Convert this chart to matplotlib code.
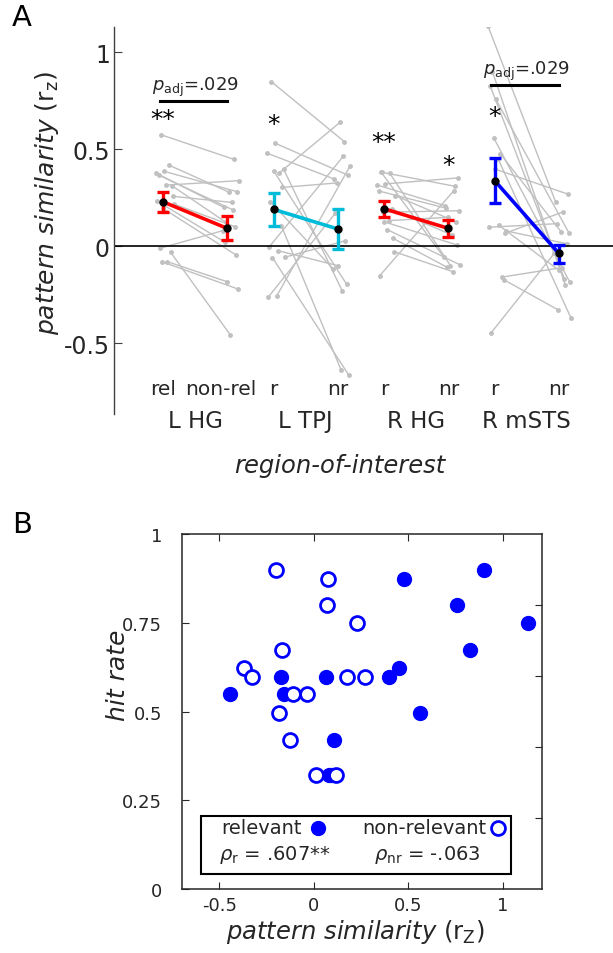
"""
Pattern similarity per ROI (panel A) and hit rate vs R mSTS similarity (panel B).
Output: out.png
"""
import matplotlib
matplotlib.use("Agg")
import matplotlib.pyplot as plt
from matplotlib.patches import Rectangle

# ---- panel A data -------------------------------------------------------
ROI_NAMES = ["L HG", "L TPJ", "R HG", "R mSTS"]
COND_LABELS = [("rel", "non-rel"), ("r", "nr"), ("r", "nr"), ("r", "nr")]
ROI_COLORS = ["#ff0000", "#00bcd9", "#ff0000", "#0000ff"]

REL_MEAN = [0.228, 0.189, 0.192, 0.337]
REL_LO = [0.177, 0.105, 0.151, 0.223]
REL_HI = [0.278, 0.273, 0.232, 0.455]
NR_MEAN = [0.091, 0.088, 0.091, -0.038]
NR_LO = [0.031, -0.017, 0.048, -0.089]
NR_HI = [0.153, 0.191, 0.134, 0.007]

LHG_REL = [0.574, 0.418, 0.385, 0.375, 0.366, 0.314, 0.311, 0.256, 0.194,
           -0.012, -0.033, -0.081, -0.081, 0.216, 0.230]
LHG_NR = [0.447, 0.277, 0.280, 0.199, 0.187, 0.337, 0.122, 0.225, -0.046,
          0.079, -0.459, -0.222, -0.184, 0.100, 0.020]
LTPJ_REL = [0.847, 0.376, 0.531, 0.479, -0.005, -0.256, 0.302, 0.397, 0.388,
            0.229, 0.105, -0.060, -0.024, -0.058, -0.265]
LTPJ_NR = [0.538, 0.637, 0.366, 0.345, 0.462, 0.410, 0.325, -0.230, -0.196,
           -0.119, -0.638, -0.665, -0.101, 0.027, 0.170]
RHG_REL = [0.380, 0.376, 0.320, 0.314, -0.153, 0.084, 0.040, -0.029, 0.125,
           0.383, 0.191, 0.174, 0.131, 0.260, 0.284]
RHG_NR = [0.308, -0.101, 0.351, 0.208, 0.285, -0.098, -0.110, -0.132, 0.005,
          -0.058, 0.057, 0.182, 0.148, 0.125, 0.195]

# ---- panel B data (R mSTS, one entry per subject) -----------------------
HIT_RATE = [0.899, 0.874, 0.799, 0.748, 0.672, 0.623, 0.597, 0.597, 0.597,
            0.548, 0.548, 0.497, 0.421, 0.321, 0.321]
MSTS_REL = [0.898, 0.476, 0.757, 1.133, 0.824, 0.450, -0.173, 0.065, 0.397,
            -0.446, -0.160, 0.559, 0.106, 0.078, 0.097]
MSTS_NR = [-0.203, 0.074, 0.069, 0.229, -0.168, -0.371, -0.328, 0.176, 0.268,
           -0.037, -0.111, -0.187, -0.125, 0.012, 0.115]

SUBJ_REL = [LHG_REL, LTPJ_REL, RHG_REL, MSTS_REL]
SUBJ_NR = [LHG_NR, LTPJ_NR, RHG_NR, MSTS_NR]

# star annotations: (roi, condition 0/1, y, text)
STARS = [(0, 0, 0.655, "**"), (1, 0, 0.63, "*"), (2, 0, 0.536, "**"),
         (2, 1, 0.42, "*"), (3, 0, 0.67, "*")]
# bracket annotations: (roi, y, text)
BRACKETS = [(0, 0.747, r"$p_{\mathrm{adj}}$=.029"), (3, 0.83, r"$p_{\mathrm{adj}}$=.029")]

# fixed horizontal jitter for subject dots (style only)
JIT_L = [-0.02, 0.05, 0.01, -0.06, -0.04, 0.03, 0.08, 0.09, 0.00, -0.03, 0.07, -0.01, 0.04, 0.10, -0.05]
JIT_R = [0.06, 0.02, 0.09, -0.03, 0.05, 0.11, -0.01, 0.04, 0.08, -0.04, 0.03, 0.10, 0.00, 0.07, -0.02]

OFF = 0.29
AX_COL = "#262626"

fig = plt.figure(figsize=(6.13, 9.54), dpi=100)

# ---------------- panel A ----------------
axA = fig.add_axes([114 / 613, 1 - 415 / 954, 499 / 613, 387 / 954])
axA.set_xlim(0.267, 4.78)
axA.set_ylim(-0.866, 1.129)
for s in ("top", "right", "bottom"):
    axA.spines[s].set_visible(False)
axA.spines["left"].set_color("#404040")
axA.spines["left"].set_linewidth(1.0)
axA.set_xticks([])
axA.set_yticks([-0.5, 0, 0.5, 1])
axA.set_yticklabels(["-0.5", "0", "0.5", "1"])
axA.tick_params(axis="y", direction="in", length=6, labelsize=17, pad=3,
                color="#404040", labelcolor=AX_COL)
axA.axhline(0, color="k", lw=1.2, zorder=2)

for i in range(4):
    c = i + 1
    rel, nr = SUBJ_REL[i], SUBJ_NR[i]
    for k in range(len(rel)):
        axA.plot([c - OFF + JIT_L[k], c + OFF + JIT_R[k]], [rel[k], nr[k]],
                 color="#c0c0c0", lw=1.0, marker="o", ms=2.5, zorder=1)
    col = ROI_COLORS[i]
    axA.plot([c - OFF, c + OFF], [REL_MEAN[i], NR_MEAN[i]], color=col, lw=2.6, zorder=4)
    for x, m, lo, hi in ((c - OFF, REL_MEAN[i], REL_LO[i], REL_HI[i]),
                         (c + OFF, NR_MEAN[i], NR_LO[i], NR_HI[i])):
        axA.errorbar([x], [m], yerr=[[m - lo], [hi - m]], fmt="none", ecolor=col,
                     elinewidth=2.4, capsize=4, capthick=2.4, zorder=5)
        axA.plot([x], [m], "o", color="k", ms=5, zorder=6)
    axA.text(c - OFF, -0.737, COND_LABELS[i][0], ha="center", va="center",
             fontsize=14.5, color=AX_COL, clip_on=False)
    axA.text(c + OFF - (0.06 if i == 0 else 0), -0.737, COND_LABELS[i][1],
             ha="center", va="center", fontsize=14.5, color=AX_COL, clip_on=False)
    axA.text(c, -0.897, ROI_NAMES[i], ha="center", va="center", fontsize=16.5,
             color=AX_COL, clip_on=False)

for roi, cond, y, txt in STARS:
    x = roi + 1 + (OFF if cond else -OFF)
    axA.text(x, y, txt, ha="center", va="center", fontsize=18, color="k")

for roi, y, txt in BRACKETS:
    c = roi + 1
    axA.plot([c - OFF - 0.03, c + OFF], [y, y], color="k", lw=2.2)
    axA.text(c, y + 0.015, txt, ha="center", va="bottom", fontsize=13, color=AX_COL)

fig.text(340 / 613, 1 - 466 / 954, "region-of-interest", ha="center", va="center",
         fontsize=17.5, style="italic", color=AX_COL)
fig.text(47 / 613, 1 - 203 / 954, r"$\mathit{pattern\ similarity}\ (\mathrm{r_z})$",
         rotation=90, ha="center", va="center", fontsize=18, color=AX_COL)
fig.text(22 / 613, 1 - 18 / 954, "A", ha="center", va="center", fontsize=21, color="k")

# ---------------- panel B ----------------
axB = fig.add_axes([181.7 / 613, 1 - 890 / 954, 360 / 613, 355 / 954])
axB.set_xlim(-0.7, 1.205)
axB.set_ylim(0, 1)
axB.set_xticks([-0.5, 0, 0.5, 1])
axB.set_xticklabels(["-0.5", "0", "0.5", "1"])
axB.set_yticks([0, 0.25, 0.5, 0.75, 1])
axB.set_yticklabels(["0", "0.25", "0.5", "0.75", "1"])
axB.tick_params(direction="in", top=True, length=5, labelsize=13, color=AX_COL,
                labelcolor=AX_COL)
axB.tick_params(axis="y", pad=14)
axB.tick_params(axis="x", pad=5)
for s in axB.spines.values():
    s.set_color(AX_COL)
    s.set_linewidth(1.1)

axR = axB.twinx()
axR.set_ylim(0, 1)
axR.set_yticks([0.2, 0.4, 0.6, 0.8])
axR.tick_params(direction="in", length=5, labelright=False, color=AX_COL)
for s in axR.spines.values():
    s.set_visible(False)

axB.plot(MSTS_REL, HIT_RATE, "o", color="#0000ff", ms=10, zorder=3)
axB.plot(MSTS_NR, HIT_RATE, "o", mfc="white", mec="#0000ff", mew=2, ms=10, zorder=3)

axB.add_patch(Rectangle((-0.598, 0.042), 1.642, 0.164, facecolor="white",
                        edgecolor="k", lw=1.5, zorder=5))
axB.text(-0.067, 0.172, "relevant", ha="right", va="center", fontsize=14, color=AX_COL, zorder=6)
axB.plot([0.02], [0.172], "o", color="#0000ff", ms=10, zorder=6)
axB.text(0.913, 0.172, "non-relevant", ha="right", va="center", fontsize=14, color=AX_COL, zorder=6)
axB.plot([0.973], [0.172], "o", mfc="white", mec="#0000ff", mew=2, ms=10, zorder=6, clip_on=False)
axB.text(-0.208, 0.099, r"$\rho_{\mathrm{r}}$ = .607**", ha="center", va="center",
         fontsize=14, color=AX_COL, zorder=6)
axB.text(0.602, 0.099, r"$\rho_{\mathrm{nr}}$ = -.063", ha="center", va="center",
         fontsize=14, color=AX_COL, zorder=6)

fig.text(355 / 613, 1 - 932 / 954, r"$\mathit{pattern\ similarity}\ (\mathrm{r_Z})$",
         ha="center", va="center", fontsize=17.5, color=AX_COL)
fig.text(118 / 613, 1 - 675 / 954, "hit rate", rotation=90, ha="center", va="center",
         fontsize=18, style="italic", color=AX_COL)
fig.text(22 / 613, 1 - 525 / 954, "B", ha="center", va="center", fontsize=21, color="k")

fig.savefig("out.png", dpi=100)
